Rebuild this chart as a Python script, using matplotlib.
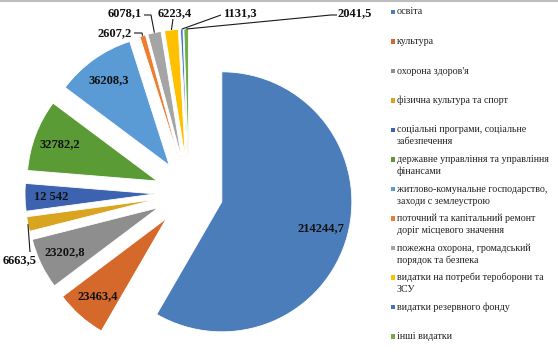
import numpy as np
import matplotlib
matplotlib.use("Agg")
import matplotlib.pyplot as plt
from matplotlib.patches import Rectangle
from matplotlib.lines import Line2D

categories = [
    "освіта",
    "культура",
    "охорона здоров'я",
    "фізична культура та спорт",
    "соціальні програми, соціальне\nзабезпечення",
    "державне управління та управління\nфінансами",
    "житлово-комунальне господарство,\nзаходи с землеустрою",
    "поточний та капітальний ремонт\nдоріг місцевого значення",
    "пожежна охорона, громадський\nпорядок та безпека",
    "видатки на потреби тероборони та\nЗСУ",
    "видатки резервного фонду",
    "інші видатки",
]
values = [214244.7, 23463.4, 23202.8, 6663.5, 12542, 32782.2,
          36208.3, 2607.2, 6078.1, 6223.4, 1131.3, 2041.5]
colors = ["#4A7DB9", "#D5692B", "#8E8E8E", "#D9A521", "#3D63B0", "#5A9B36",
          "#5B9BD5", "#ED7D31", "#A5A5A5", "#FFC000", "#4472C4", "#70AD47"]


def fmt(v):
    if float(v).is_integer():
        return f"{int(v):,}".replace(",", " ")
    return f"{v:.1f}".replace(".", ",")


W, H = 558, 355
CX, CY = 189, 193      # pie centre in pixels (from top-left)
R = 130                # radius in pixels
EXPL = 34              # explosion distance in pixels


def P(x, y):
    return ((x - CX) / R, (CY - y) / R)


fig = plt.figure(figsize=(W / 100, H / 100), dpi=100)
ax = fig.add_axes([0, 0, 1, 1])
wedges, _ = ax.pie(values, colors=colors, startangle=90, counterclock=False,
                   explode=[EXPL / R] * len(values), radius=1, center=(0, 0),
                   wedgeprops=dict(edgecolor="white", linewidth=0.6))
ax.set_xlim(-CX / R, (W - CX) / R)
ax.set_ylim(-(H - CY) / R, CY / R)
ax.axis("off")

lab_font = dict(family="Liberation Serif", fontweight="bold", fontsize=9, color="#111111")

inside = [0, 1, 2, 4, 5, 6]
for i in inside:
    w = wedges[i]
    tm = np.deg2rad(0.5 * (w.theta1 + w.theta2))
    cx, cy = w.center
    d = 0.79 if i == 0 else 0.8
    ax.text(cx + d * w.r * np.cos(tm), cy + d * w.r * np.sin(tm), fmt(values[i]),
            ha="center", va="center", **lab_font)

# outside labels: text centre (px) and leader points (px) before the wedge edge
outside = {
    7: ((115, 33), [(134, 33), (142, 33)]),
    8: ((125, 13), [(144, 15), (151, 15)]),
    9: ((175, 13), [(173, 19)]),
    10: ((240, 13), [(221, 15)]),
    11: ((355, 13), [(337, 15), (331, 15)]),
    3: ((20, 260), [(30, 252)]),
}
for i, (tp, pts) in outside.items():
    w = wedges[i]
    tm = np.deg2rad(0.5 * (w.theta1 + w.theta2))
    cx, cy = w.center
    end = (cx + w.r * np.cos(tm), cy + w.r * np.sin(tm))
    xs = [P(*p)[0] for p in pts] + [end[0]]
    ys = [P(*p)[1] for p in pts] + [end[1]]
    ax.plot(xs, ys, color="#1a1a1a", lw=0.8, solid_capstyle="butt")
    ax.text(*P(*tp), fmt(values[i]), ha="center", va="center", **lab_font)

# legend drawn manually
leg_font = dict(family="Liberation Serif", fontsize=7.2, color="#222222")
msz = 4.5 / R
for i, (cat, col) in enumerate(zip(categories, colors)):
    y0 = 12 + 29.5 * i
    mx, my = P(393, y0)
    ax.add_patch(Rectangle((mx - msz / 2, my - msz / 2), msz, msz, color=col, lw=0))
    for j, line in enumerate(cat.split("\n")):
        ax.text(*P(397, y0 + 12 * j), line, ha="left", va="center", **leg_font)

fig.add_artist(Line2D([0, 1], [1 - 1 / H, 1 - 1 / H], transform=fig.transFigure,
                      color="#BDBDBD", lw=1.5))

fig.savefig("out.png", dpi=100)
